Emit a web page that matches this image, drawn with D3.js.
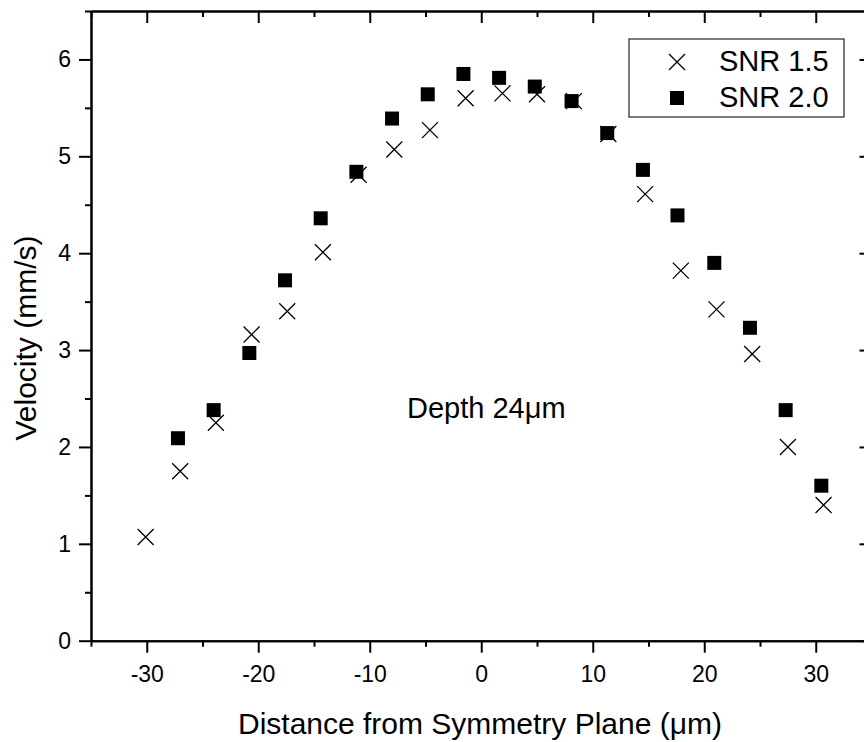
<!DOCTYPE html>
<html>
<head>
<meta charset="utf-8">
<script src="https://cdn.jsdelivr.net/npm/d3@7"></script>
<style>
  html, body { margin: 0; padding: 0; background: #fff; }
  svg { display: block; font-family: "Liberation Sans", Arial, sans-serif; }
</style>
</head>
<body>
<svg id="chart" width="864" height="742"></svg>
<script>
// Velocity profile across the channel, two SNR thresholds
const xSnr15 = [-30.1, -27.0, -23.8, -20.6, -17.4, -14.2, -11.0, -7.8, -4.6, -1.4,
                 1.9, 5.0, 8.3, 11.4, 14.7, 17.9, 21.1, 24.3, 27.5, 30.7];
const ySnr15 = [1.07, 1.75, 2.25, 3.16, 3.40, 4.01, 4.81, 5.07, 5.27, 5.60,
                5.65, 5.64, 5.57, 5.23, 4.61, 3.82, 3.42, 2.96, 2.00, 1.40];

const xSnr20 = [-27.2, -24.0, -20.8, -17.6, -14.4, -11.2, -8.0, -4.8, -1.6,
                1.6, 4.8, 8.1, 11.3, 14.5, 17.6, 20.9, 24.1, 27.3, 30.5];
const ySnr20 = [2.09, 2.38, 2.97, 3.72, 4.36, 4.84, 5.39, 5.64, 5.85,
                5.81, 5.72, 5.57, 5.24, 4.86, 4.39, 3.90, 3.23, 2.38, 1.60];

const xMajorTicks = [-30, -20, -10, 0, 10, 20, 30];
const xMinorTicks = [-35, -25, -15, -5, 5, 15, 25, 35];
const yMajorTicks = [0, 1, 2, 3, 4, 5, 6];
const yMinorTicks = [0.5, 1.5, 2.5, 3.5, 4.5, 5.5, 6.5];

const seriesNames = ["SNR 1.5", "SNR 2.0"];
const xTitle = "Distance from Symmetry Plane (\u03BCm)";
const yTitle = "Velocity (mm/s)";
const annotation = "Depth 24\u03BCm";

const FONT = "'Liberation Sans', Arial, sans-serif";
const svg = d3.select("#chart");
const plotLeft = 91, plotRight = 871.5, plotTop = 11, plotBottom = 640.7;

const x = d3.scaleLinear().domain([-35, 35]).range([plotLeft, plotRight]);
const y = d3.scaleLinear().domain([0, 6.5]).range([plotBottom, plotTop]);

const tickFont = 23;
const plainNumber = d => String(d);   // hyphen-minus, as on the printed axis

function styleAxis(g) {
  g.attr("font-family", FONT).attr("font-size", tickFont);
  g.select(".domain").attr("stroke", "#000").attr("stroke-width", 2);
  g.selectAll(".tick line").attr("stroke", "#000").attr("stroke-width", 2);
  g.selectAll(".tick text").attr("fill", "#000");
}

// bottom axis: labelled majors, outward ticks
svg.append("g").attr("transform", `translate(0,${plotBottom})`)
  .call(d3.axisBottom(x).tickValues(xMajorTicks).tickSize(12).tickSizeOuter(0)
        .tickPadding(13).tickFormat(plainNumber))
  .call(styleAxis);
svg.append("g").attr("transform", `translate(0,${plotBottom})`)
  .call(d3.axisBottom(x).tickValues(xMinorTicks).tickSize(6).tickSizeOuter(0).tickFormat(""))
  .call(styleAxis);

// top axis: inward ticks, no labels
svg.append("g").attr("transform", `translate(0,${plotTop})`)
  .call(d3.axisTop(x).tickValues(xMajorTicks).tickSize(-12).tickSizeOuter(0).tickFormat(""))
  .call(styleAxis);
svg.append("g").attr("transform", `translate(0,${plotTop})`)
  .call(d3.axisTop(x).tickValues(xMinorTicks).tickSize(-6).tickSizeOuter(0).tickFormat(""))
  .call(styleAxis);

// left axis: labelled majors, outward ticks
svg.append("g").attr("transform", `translate(${plotLeft},0)`)
  .call(d3.axisLeft(y).tickValues(yMajorTicks).tickSize(12).tickSizeOuter(0)
        .tickPadding(8).tickFormat(plainNumber))
  .call(styleAxis);
svg.append("g").attr("transform", `translate(${plotLeft},0)`)
  .call(d3.axisLeft(y).tickValues(yMinorTicks).tickSize(6).tickSizeOuter(0).tickFormat(""))
  .call(styleAxis);

// right axis: inward ticks, no labels
svg.append("g").attr("transform", `translate(${plotRight},0)`)
  .call(d3.axisRight(y).tickValues(yMajorTicks).tickSize(-12).tickSizeOuter(0).tickFormat(""))
  .call(styleAxis);
svg.append("g").attr("transform", `translate(${plotRight},0)`)
  .call(d3.axisRight(y).tickValues(yMinorTicks).tickSize(-6).tickSizeOuter(0).tickFormat(""))
  .call(styleAxis);

// markers
const crossHalf = 8, squareSize = 14;
function drawCross(g, cx, cy) {
  g.append("path")
    .attr("d", `M${cx - crossHalf},${cy - crossHalf}L${cx + crossHalf},${cy + crossHalf}` +
               `M${cx - crossHalf},${cy + crossHalf}L${cx + crossHalf},${cy - crossHalf}`)
    .attr("stroke", "#000").attr("stroke-width", 1.3).attr("fill", "none");
}
function drawSquare(g, cx, cy) {
  g.append("rect")
    .attr("x", cx - squareSize / 2).attr("y", cy - squareSize / 2)
    .attr("width", squareSize).attr("height", squareSize)
    .attr("fill", "#000");
}

const pts = svg.append("g");
const sq = pts.append("g");
xSnr20.forEach((v, i) => drawSquare(sq, x(v), y(ySnr20[i])));
const cr = pts.append("g");
xSnr15.forEach((v, i) => drawCross(cr, x(v), y(ySnr15[i])));

// axis titles
svg.append("text")
  .attr("x", 480).attr("y", 734)
  .attr("text-anchor", "middle").attr("font-size", 30).attr("font-family", FONT).attr("fill", "#000")
  .text(xTitle);

svg.append("text")
  .attr("transform", `translate(36,338) rotate(-90)`)
  .attr("text-anchor", "middle").attr("font-size", 30).attr("font-family", FONT).attr("fill", "#000")
  .text(yTitle);

// annotation
svg.append("text")
  .attr("x", 407).attr("y", 418).attr("font-size", 29).attr("font-family", FONT).attr("fill", "#000")
  .text(annotation);

// legend
const lg = svg.append("g").attr("font-family", FONT).attr("font-size", 29);
lg.append("rect").attr("x", 629).attr("y", 39).attr("width", 215).attr("height", 78)
  .attr("fill", "#fff").attr("stroke", "#222").attr("stroke-width", 1.2);
drawCross(lg, 677, 62);
drawSquare(lg, 677, 98);
lg.append("text").attr("x", 719).attr("y", 71).attr("fill", "#000").text(seriesNames[0]);
lg.append("text").attr("x", 719).attr("y", 107).attr("fill", "#000").text(seriesNames[1]);
</script>
</body>
</html>
